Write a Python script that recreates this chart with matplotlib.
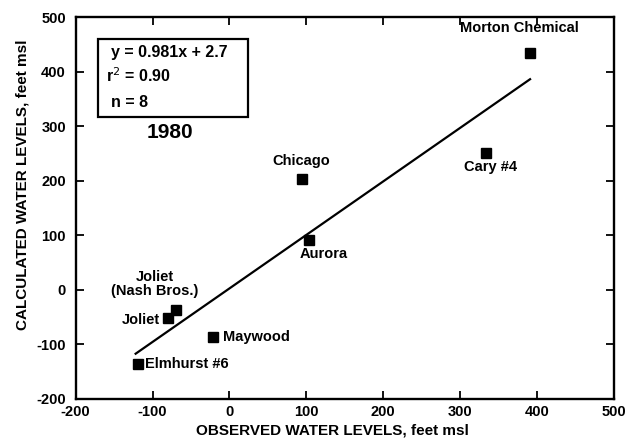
import matplotlib
matplotlib.use("Agg")
import matplotlib.pyplot as plt
from matplotlib.patches import Rectangle
import numpy as np

plt.rcParams['font.family'] = ['Liberation Sans', 'DejaVu Sans']
plt.rcParams['axes.unicode_minus'] = False

sites = ["Morton Chemical", "Cary #4", "Chicago", "Aurora", "Joliet\n(Nash Bros.)", "Joliet", "Maywood", "Elmhurst #6"]
observed = [391, 334, 95, 103, -70, -80, -21, -119]
calculated = [434, 251, 204, 91, -37, -51, -86, -135]
slope = 0.981
intercept = 2.7
line_x = [-122, 391]
xticks = [-200, -100, 0, 100, 200, 300, 400, 500]
yticks = [-200, -100, 0, 100, 200, 300, 400, 500]
stats_lines = ["y = 0.981x + 2.7", "r$^2$ = 0.90", "n = 8"]

fig = plt.figure(figsize=(6.28, 4.45), dpi=100)
ax = fig.add_axes([0.1205, 0.1034, 0.857, 0.858])
ax.set_xlim(-200, 500)
ax.set_ylim(-200, 500)

lx = np.array(line_x)
ax.plot(lx, slope * lx + intercept, color='black', lw=1.6)
ax.plot(observed, calculated, 's', color='black', ms=6.5)

lab = {
    "Morton Chemical": (-8, 13, 'center', 'bottom'),
    "Cary #4": (3, -5, 'center', 'top'),
    "Chicago": (-1, 8, 'center', 'bottom'),
    "Aurora": (11, -5, 'center', 'top'),
    "Joliet\n(Nash Bros.)": (-15, 9, 'center', 'bottom'),
    "Joliet": (-6, -2, 'right', 'center'),
    "Maywood": (7, 0, 'left', 'center'),
    "Elmhurst #6": (5, 0, 'left', 'center'),
}
for name, xo, yo in zip(sites, observed, calculated):
    dx, dy, ha, va = lab[name]
    ax.annotate(name, (xo, yo), xytext=(dx, dy), textcoords='offset points',
                ha=ha, va=va, fontsize=10.5, fontweight='bold', linespacing=1.0)

ax.add_patch(Rectangle((-171, 317), 195, 143, fill=False, ec='black', lw=1.6, zorder=3))
for txt, xx, yy in zip(stats_lines, [-154, -160, -154], [435, 393, 344]):
    ax.text(xx, yy, txt, fontsize=11.5, fontweight='bold', ha='left', va='center')
ax.text(-77, 289, "1980", fontsize=15, fontweight='bold', ha='center', va='center')

ax.set_xticks(xticks)
ax.set_yticks(yticks)
ax.tick_params(direction='in', length=6, width=1.3, top=True, right=True,
               labelsize=10.5)
ax.tick_params(axis='x', pad=4)
ax.tick_params(axis='y', pad=7)
for lbl in ax.get_xticklabels() + ax.get_yticklabels():
    lbl.set_fontweight('bold')
for s in ax.spines.values():
    s.set_linewidth(1.7)

ax.set_xlabel("OBSERVED WATER LEVELS, feet msl", fontsize=11, fontweight='bold')
ax.set_ylabel("CALCULATED WATER LEVELS, feet msl", fontsize=11, fontweight='bold')
ax.xaxis.set_label_coords(0.478, -0.065)
ax.yaxis.set_label_coords(-0.085, 0.56)

fig.savefig("out.png", dpi=100)
